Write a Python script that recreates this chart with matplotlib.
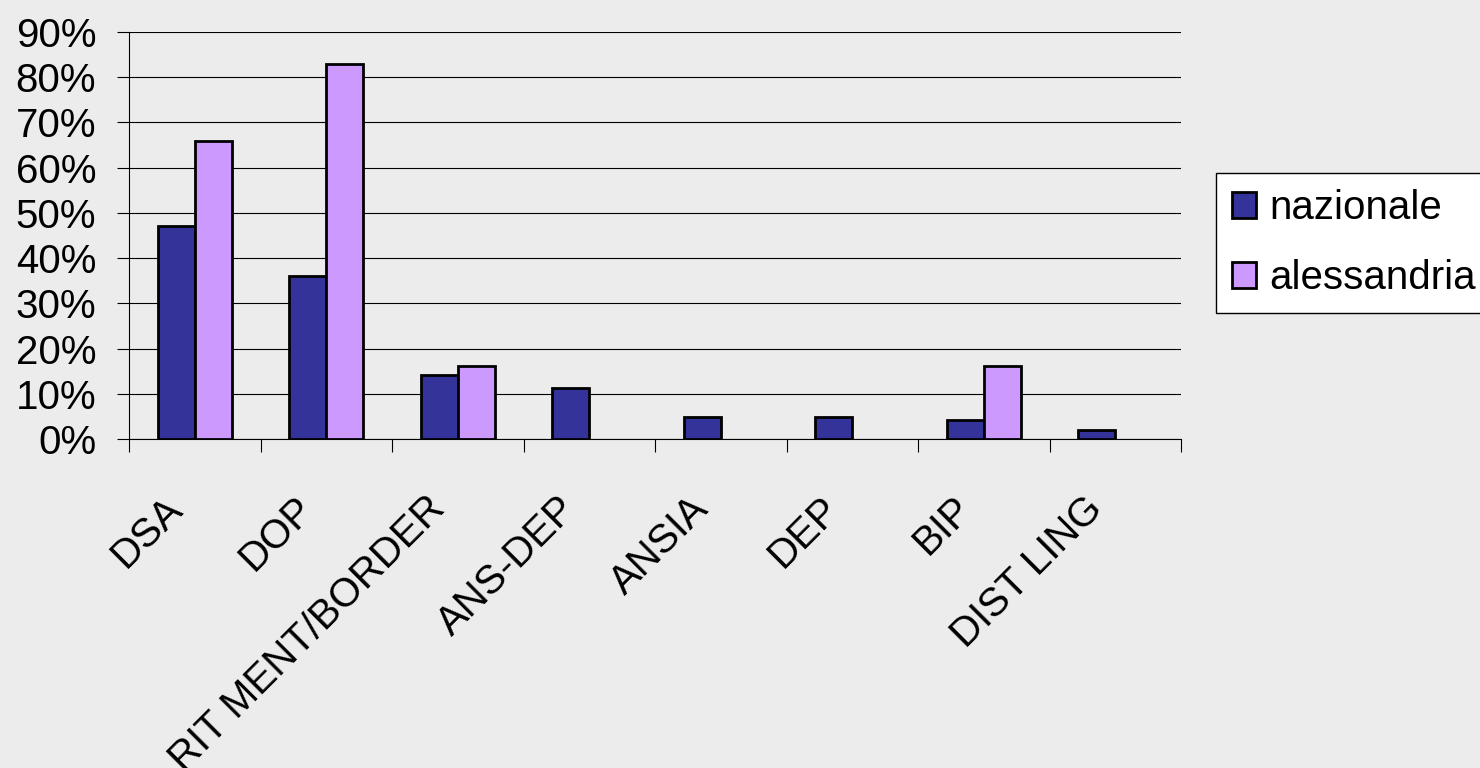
import numpy as np
import matplotlib
matplotlib.use("Agg")
import matplotlib.pyplot as plt
from matplotlib.transforms import ScaledTranslation

# Data (no bar drawn where alessandria has no value)
categories = ["DSA", "DOP", "RIT MENT/BORDER", "ANS-DEP", "ANSIA", "DEP", "BIP", "DIST LING"]
nazionale = [0.47, 0.36, 0.142, 0.113, 0.049, 0.049, 0.042, 0.021]
alessandria = [0.66, 0.83, 0.162, np.nan, np.nan, np.nan, 0.162, np.nan]
y_ticks = [0.0, 0.1, 0.2, 0.3, 0.4, 0.5, 0.6, 0.7, 0.8, 0.9]
y_labels = ["0%", "10%", "20%", "30%", "40%", "50%", "60%", "70%", "80%", "90%"]
series_names = ["nazionale", "alessandria"]

plt.rcParams["font.family"] = ["Liberation Sans", "DejaVu Sans"]
FS = 29

fig = plt.figure(figsize=(14.8, 7.68), dpi=100, facecolor="#ececec")
ax = fig.add_axes([129 / 1480, 1 - 439 / 768, 1052 / 1480, 407 / 768])
ax.set_facecolor("none")

x = np.arange(len(categories))
w = 0.28
ax.bar(x - w / 2, nazionale, w, color="#333399", edgecolor="black", linewidth=2,
       label=series_names[0], zorder=3)
ax.bar(x + w / 2, alessandria, w, color="#cc99ff", edgecolor="black", linewidth=2,
       label=series_names[1], zorder=3)

ax.set_xlim(-0.5, len(categories) - 0.5)
ax.set_ylim(0, 0.9)

# y axis
ax.set_yticks(y_ticks)
ax.set_yticklabels(y_labels, fontsize=FS)
ax.tick_params(axis="y", direction="out", length=8.6, width=0.8, pad=15, color="black")
ax.yaxis.grid(True, color="black", linewidth=0.8, zorder=0)
ax.set_axisbelow(True)

# x axis: labels at centers, tick marks at category boundaries
ax.set_xticks(x)
ax.set_xticklabels(categories, fontsize=FS, rotation=45, ha="right", va="top",
                   rotation_mode="anchor")
ax.tick_params(axis="x", which="major", length=0, pad=0)
ax.set_xticks(np.arange(-0.5, len(categories), 1.0), minor=True)
ax.tick_params(axis="x", which="minor", direction="out", length=9.4, width=0.8, color="black")
shift = ScaledTranslation(-0.32, -0.50, fig.dpi_scale_trans)
for lbl in ax.get_xticklabels():
    lbl.set_transform(lbl.get_transform() + shift)

for s in ["top", "right"]:
    ax.spines[s].set_visible(False)
for s in ["left", "bottom"]:
    ax.spines[s].set_color("black")
    ax.spines[s].set_linewidth(0.8)

leg = fig.legend(loc="upper left", bbox_to_anchor=(1216 / 1480, 1 - 173 / 768),
                 fontsize=FS, frameon=True, fancybox=False, edgecolor="black",
                 facecolor="white", framealpha=1, handlelength=0.6, handleheight=0.6,
                 handletextpad=0.33, borderpad=0.4, labelspacing=0.8, borderaxespad=0)
leg.get_frame().set_linewidth(1)

fig.savefig("out.png", dpi=100, facecolor=fig.get_facecolor())
